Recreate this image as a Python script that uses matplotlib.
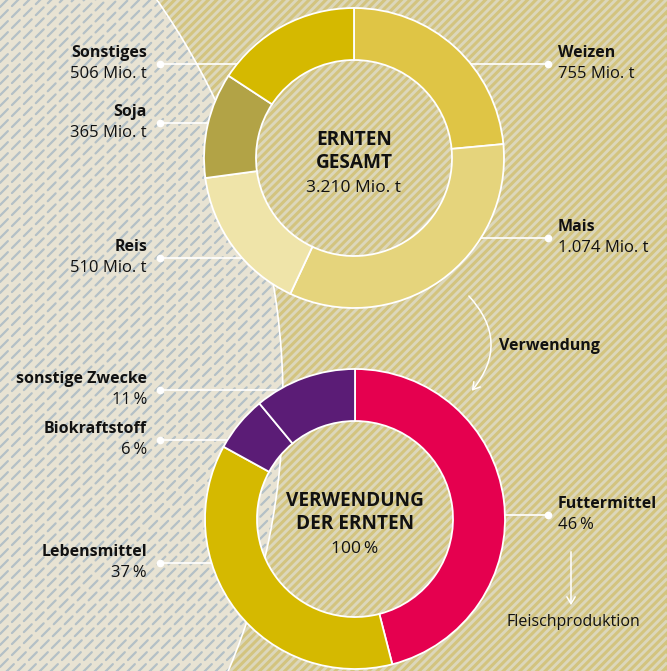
import matplotlib
matplotlib.use('Agg')
import matplotlib.pyplot as plt
import numpy as np
from matplotlib.patches import Circle, Rectangle, FancyArrowPatch

plt.rcParams['font.family'] = ['Open Sans', 'DejaVu Sans']

W, H = 667, 671

# Ernten in Mio. t, im Uhrzeigersinn ab 12 Uhr
ernte_namen = ['Weizen', 'Mais', 'Reis', 'Soja', 'Sonstiges']
ernte_werte = [755, 1074, 510, 365, 506]
ernte_texte = ['755 Mio. t', '1.074 Mio. t', '510 Mio. t', '365 Mio. t', '506 Mio. t']
ernte_farben = ['#dfc545', '#e5d47c', '#efe4a9', '#b2a346', '#d5b900']
ernte_gesamt = '3.210 Mio. t'

# Verwendung der Ernten in %
verw_namen = ['Futtermittel', 'Lebensmittel', 'Biokraftstoff', 'sonstige Zwecke']
verw_werte = [46, 37, 6, 11]
verw_farben = ['#e5004f', '#d5b900', '#5b1c76', '#5b1c76']

# Layout (Pixel von oben)
c1 = (354, 158)
c2 = (355, 519)
R, RING = 150, 52
ernte_y = {'Weizen': 64, 'Mais': 238, 'Reis': 258, 'Soja': 123, 'Sonstiges': 64}
ernte_seite = {'Weizen': 1, 'Mais': 1, 'Reis': -1, 'Soja': -1, 'Sonstiges': -1}
verw_y = {'Futtermittel': 515, 'Lebensmittel': 563, 'Biokraftstoff': 440, 'sonstige Zwecke': 390}
verw_seite = {'Futtermittel': 1, 'Lebensmittel': -1, 'Biokraftstoff': -1, 'sonstige Zwecke': -1}

FS_B, FS_R = 11.5, 12      # Labels fett / normal
FS_MB, FS_MR = 13.7, 12.5  # Mitte fett / normal
TXT = '#111111'

fig = plt.figure(figsize=(W / 100, H / 100), dpi=100)
ax = fig.add_axes([0, 0, 1, 1])

# Hintergrund: rechts khaki gestreift
ax.add_patch(Rectangle((0, 0), W, H, fc='#d3c47f', ec='none', zorder=0))
for c in np.arange(-W, H, 8.4):
    ax.plot([0, W], [c, c + W], color='#dcd7bb', lw=2.1, solid_capstyle='butt', zorder=0.1)

# links hell mit gestrichelten Linien
links = Circle((-415, H - 400), 698, fc='#e8e3d3', ec='none', zorder=0.2)
ax.add_patch(links)
for c in np.arange(-W, H, 11):
    ln, = ax.plot([0, W], [c, c + W], color='#b4c0c6', lw=1.6, ls=(0, (5, 2.6)),
                  dash_capstyle='round', zorder=0.3)
    ln.set_clip_path(links)
ax.add_patch(Circle((-415, H - 400), 698, fc='none', ec='white', lw=1.2, zorder=0.4))

# Donuts
wp = dict(width=RING, edgecolor='white', linewidth=1.3)
ax.pie(ernte_werte, colors=ernte_farben, startangle=90, counterclock=False,
       center=(c1[0], H - c1[1]), radius=R, wedgeprops=wp, frame=True)
ax.pie(verw_werte, colors=verw_farben, startangle=90, counterclock=False,
       center=(c2[0], H - c2[1]), radius=R, wedgeprops=wp, frame=True)


def beschriftung(centre, y, seite, name, wert):
    dy = y - centre[1]
    x_rand = centre[0] + seite * (np.sqrt(R ** 2 - dy ** 2) - 3)
    x_punkt = 548 if seite > 0 else 160
    ax.plot([x_punkt, x_rand], [H - y, H - y], color='white', lw=1.2, zorder=0.5)
    ax.plot(x_punkt, H - y, 'o', color='white', ms=4.5, zorder=0.6)
    x_txt = 558 if seite > 0 else 147
    ha = 'left' if seite > 0 else 'right'
    ax.text(x_txt, H - y + 11, name, ha=ha, va='center', fontsize=FS_B, fontweight='bold', color=TXT)
    ax.text(x_txt, H - y - 10, wert, ha=ha, va='center', fontsize=FS_R, color=TXT)


for n, t in zip(ernte_namen, ernte_texte):
    beschriftung(c1, ernte_y[n], ernte_seite[n], n, t)
for n, v in zip(verw_namen, verw_werte):
    beschriftung(c2, verw_y[n], verw_seite[n], n, f'{v}\u2009%')

# Mitte
ax.text(c1[0], H - 140, 'ERNTEN', ha='center', va='center', fontsize=FS_MB, fontweight='bold', color=TXT)
ax.text(c1[0], H - 163, 'GESAMT', ha='center', va='center', fontsize=FS_MB, fontweight='bold', color=TXT)
ax.text(c1[0], H - 188, ernte_gesamt, ha='center', va='center', fontsize=FS_MR, color=TXT)
ax.text(c2[0], H - 501, 'VERWENDUNG', ha='center', va='center', fontsize=FS_MB, fontweight='bold', color=TXT)
ax.text(c2[0], H - 524, 'DER ERNTEN', ha='center', va='center', fontsize=FS_MB, fontweight='bold', color=TXT)
ax.text(c2[0], H - 549, f'{sum(verw_werte)}\u2009%', ha='center', va='center', fontsize=FS_MR, color=TXT)

# Pfeil Verwendung
ax.add_patch(FancyArrowPatch((467, H - 294), (470, H - 393), connectionstyle='arc3,rad=-0.45',
                             arrowstyle='->,head_length=5,head_width=3', color='white', lw=1.1, zorder=2))
ax.text(499, H - 346, 'Verwendung', ha='left', va='center', fontsize=FS_B, fontweight='bold', color=TXT)

# Pfeil Fleischproduktion
ax.annotate('', xy=(571, H - 608), xytext=(571, H - 549),
            arrowprops=dict(arrowstyle='->,head_length=0.5,head_width=0.3', color='white', lw=1.1))
ax.text(506, H - 622, 'Fleischproduktion', ha='left', va='center', fontsize=11.5, color=TXT)

ax.set_xlim(0, W)
ax.set_ylim(0, H)
ax.set_aspect('equal')
ax.axis('off')

fig.savefig('out.png', dpi=100)
